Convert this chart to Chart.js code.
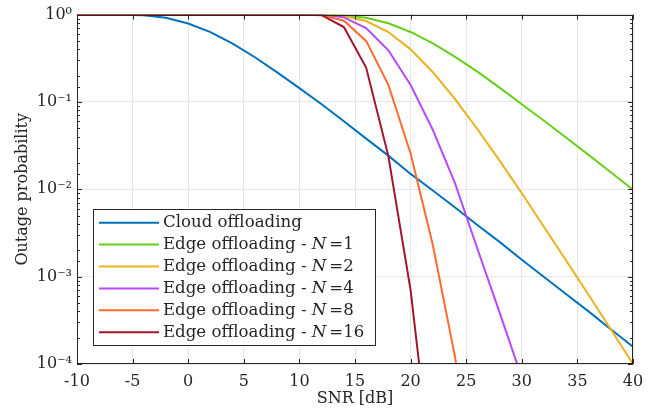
<!DOCTYPE html>
<html>
<head>
<meta charset="utf-8">
<script src="https://cdn.jsdelivr.net/npm/chart.js@4.4.0/dist/chart.umd.min.js"></script>
<style>
  html, body { margin: 0; padding: 0; background: #fff; }
  #wrap { width: 655px; height: 411px; }
</style>
</head>
<body>
<div id="wrap"><canvas id="c" width="655" height="411"></canvas></div>
<script>
const snr = [-10,-8,-6,-4,-2,0,2,4,6,8,10,12,14,16,18,20,22,24,26,28,30,32,34,36,38,40];
const cloud = [1.0,1.0,0.998,0.981,0.918,0.79,0.63,0.465,0.325,0.218,0.144,0.094,0.06,0.038,0.0243,0.0150,0.0097,0.0062,0.0039,0.0025,0.00156,0.00099,0.00063,0.0004,0.00025,0.000158];
const edge1 = [1,1,1,1,1,1,1,1,1,1,1,0.998,0.981,0.919,0.795,0.633,0.468,0.328,0.222,0.146,0.094,0.061,0.039,0.0248,0.0157,0.0099];
const edge2 = [1,1,1,1,1,1,1,1,1,1,1,0.996,0.962,0.845,0.632,0.40,0.219,0.108,0.049,0.0213,0.0090,0.0037,0.00152,0.00062,0.00025,0.0001];
const edge4 = [1,1,1,1,1,1,1,1,1,1,1,0.995,0.93,0.70,0.39,0.156,0.048,0.0117,0.0021,0.00039,0.00007,null,null,null,null,null];
const edge8 = [1,1,1,1,1,1,1,1,1,1,1,0.99,0.85,0.50,0.157,0.0257,0.0023,0.00012,0.000002,null,null,null,null,null,null,null];
const edge16 = [1,1,1,1,1,1,1,1,1,1,1,0.985,0.72,0.248,0.024,0.0007,0.0000045,null,null,null,null,null,null,null,null,null];
const seriesLabels = ['Cloud offloading','Edge offloading - N =1','Edge offloading - N =2','Edge offloading - N =4','Edge offloading - N =8','Edge offloading - N =16'];
const seriesColors = ['#0072BD','#66CF1A','#EDB120','#B848FF','#FF6B2E','#A2142F'];
const xTicks = [-10,-5,0,5,10,15,20,25,30,35,40];

const FONT = '"DejaVu Serif", serif';
const INK = '#262626';
const sup = {'0':'⁰','1':'¹','2':'²','3':'³','4':'⁴','5':'⁵','6':'⁶','7':'⁷','8':'⁸','9':'⁹','-':'⁻'};
function isDecade(v){ const l = Math.log10(v); return Math.abs(l - Math.round(l)) < 1e-9; }
function pts(arr){ return snr.map((s,i)=>({x:s, y:arr[i]})); }

const allSeries = [cloud, edge1, edge2, edge4, edge8, edge16];

const framePlugin = {
  id: 'frame',
  afterDraw(chart) {
    const {ctx, chartArea: a, scales: {x, y}} = chart;
    ctx.save();
    ctx.strokeStyle = INK;
    ctx.lineWidth = 1;
    ctx.beginPath();
    x.ticks.forEach(t => {
      const px = Math.round(x.getPixelForValue(t.value)) + 0.5;
      ctx.moveTo(px, a.bottom); ctx.lineTo(px, a.bottom - 5);
      ctx.moveTo(px, a.top); ctx.lineTo(px, a.top + 5);
    });
    y.ticks.forEach(t => {
      const py = Math.round(y.getPixelForValue(t.value)) + 0.5;
      const L = isDecade(t.value) ? 5 : 3;
      ctx.moveTo(a.left, py); ctx.lineTo(a.left + L, py);
      ctx.moveTo(a.right, py); ctx.lineTo(a.right - L, py);
    });
    ctx.stroke();
    ctx.strokeRect(Math.round(a.left) + 0.5, Math.round(a.top) + 0.5, Math.round(a.width) - 1, Math.round(a.height) - 1);

    // legend
    const bx = 93.5, by = 209.5, bw = 282, bh = 136;
    ctx.fillStyle = '#fff';
    ctx.fillRect(bx, by, bw, bh);
    ctx.strokeStyle = INK;
    ctx.strokeRect(bx, by, bw, bh);
    const rowH = 21.9, y0 = 222.7;
    const fs = '16.6px ';
    chart.data.datasets.forEach((ds, i) => {
      const ry = y0 + i * rowH;
      ctx.strokeStyle = ds.borderColor;
      ctx.lineWidth = 2;
      ctx.beginPath(); ctx.moveTo(99, ry); ctx.lineTo(159, ry); ctx.stroke();
      ctx.fillStyle = INK;
      ctx.textBaseline = 'middle';
      ctx.textAlign = 'left';
      let tx = 163;
      const lbl = ds.label;
      const k = lbl.indexOf(' - N ');
      ctx.font = fs + FONT;
      if (k < 0) {
        ctx.fillText(lbl, tx, ry);
      } else {
        const pre = lbl.slice(0, k + 3);
        ctx.fillText(pre, tx, ry); tx += ctx.measureText(pre).width;
        ctx.font = 'italic ' + fs + FONT;
        ctx.fillText('N', tx, ry); tx += ctx.measureText('N').width + 3;
        ctx.font = fs + FONT;
        ctx.fillText(lbl.slice(k + 5), tx, ry);
      }
    });
    ctx.restore();
  }
};

new Chart(document.getElementById('c'), {
  type: 'line',
  data: {
    datasets: allSeries.map((arr, i) => ({
      label: seriesLabels[i],
      data: pts(arr),
      borderColor: seriesColors[i],
      backgroundColor: seriesColors[i],
      borderWidth: 2,
      pointRadius: 0,
      tension: 0,
      fill: false,
      spanGaps: false,
      order: allSeries.length - 1 - i
    }))
  },
  options: {
    responsive: false,
    animation: false,
    events: [],
    layout: { padding: { left: 0, right: 22, top: 14, bottom: 0 } },
    plugins: { legend: { display: false }, tooltip: { enabled: false } },
    scales: {
      x: {
        type: 'linear', min: -10, max: 40,
        afterBuildTicks: s => { s.ticks = xTicks.map(v => ({value: v})); },
        afterFit: s => { s.height = 47; },
        ticks: { color: INK, font: { family: FONT, size: 16 }, padding: 8, maxRotation: 0 },
        grid: { color: '#e6e6e6', drawTicks: false },
        border: { display: false },
        title: { display: true, text: 'SNR [dB]', color: INK, font: { family: FONT, size: 16 }, padding: { top: 0, bottom: 3 } }
      },
      y: {
        type: 'logarithmic', min: 1e-4, max: 1,
        afterFit: s => { s.width = 77; },
        ticks: {
          autoSkip: false, color: INK, font: { family: FONT, size: 16 }, padding: 5,
          callback: v => isDecade(v) ? '10' + String(Math.round(Math.log10(v))).split('').map(c => sup[c]).join('') : ''
        },
        grid: { color: c => (c.tick && isDecade(c.tick.value)) ? '#e6e6e6' : 'rgba(0,0,0,0)', drawTicks: false },
        border: { display: false },
        title: { display: true, text: 'Outage probability', color: INK, font: { family: FONT, size: 16 }, padding: { top: 13, bottom: 0 } }
      }
    }
  },
  plugins: [framePlugin]
});
</script>
</body>
</html>
